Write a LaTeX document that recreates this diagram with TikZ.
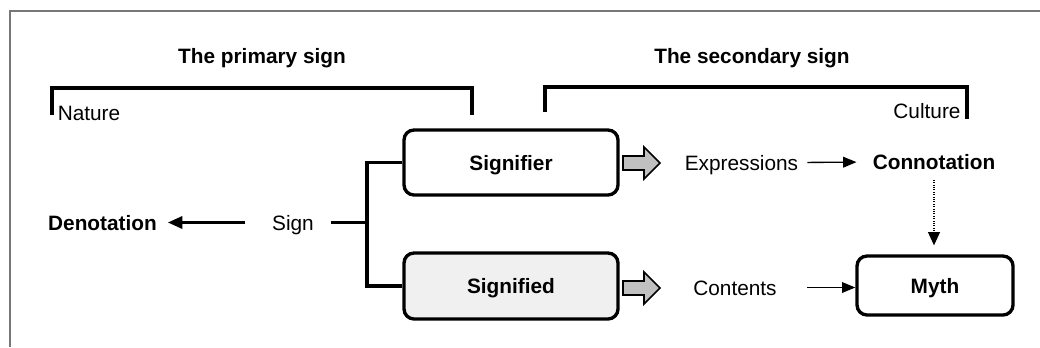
\documentclass[tikz,border=0pt]{standalone}
\usepackage{fontspec}
\setmainfont{Liberation Sans}
\usetikzlibrary{arrows.meta}
\definecolor{framegray}{HTML}{777777}
\definecolor{arrowgray}{HTML}{C0C0C0}
\definecolor{lightfill}{HTML}{F0F0F0}
\tikzset{
  txt/.style={inner sep=0pt, text height=11.3pt, text depth=0pt, font=\fontsize{15.6}{18}\selectfont},
  btxt/.style={txt, font=\fontsize{15.6}{18}\selectfont\bfseries},
  boxnode/.style={draw, line width=2.5pt, rounded corners=7.5pt, inner sep=0pt, text height=11.3pt, text depth=0pt,
     font=\fontsize{15.6}{18}\selectfont\bfseries},
  bracketline/.style={line width=2.6pt},
  thickarrow/.style={line width=2.5pt, -{Triangle[length=11pt,width=9pt]}},
  thinarrow/.style={line width=1pt, -{Triangle[length=10pt,width=8pt]}},
  dotarrow/.style={line width=0.8pt, densely dotted, -{Triangle[length=10pt,width=9pt]}},
  blockarrow/.style={draw, line width=1.3pt, fill=arrowgray, line join=miter},
}
\begin{document}
\begin{tikzpicture}[x=0.75pt,y=-0.75pt]
\useasboundingbox (0,0) rectangle (1040,347);
% frame
\draw[framegray, line width=1.5pt] (10,347) -- (10,11) -- (1040,11);

% titles
\node[btxt] (t1) at (262,55.5) {The primary sign};
\node[btxt] (t2) at (752,55.5) {The secondary sign};

% brackets
\draw[bracketline] (52,115) -- (52,88) -- (472,88) -- (472,115);
\draw[bracketline] (545,112) -- (545,87) -- (967,87) -- (967,119);
\node[txt] (nature) at (89,112.5) {Nature};
\node[txt] (culture) at (927,110.5) {Culture};

% left side
\node[btxt] (denot) at (102.5,222.5) {Denotation};
\node[txt] (sign) at (293,222.5) {Sign};
\draw[thickarrow, shorten <=20pt, shorten >=8pt] (sign.west) -- (denot.east);

% boxes
\node[boxnode, minimum width=160.5pt, minimum height=48.75pt] (sfr) at (511,162.5) {Signifier};
\node[boxnode, fill=lightfill, minimum width=160.5pt, minimum height=49.5pt] (sfd) at (511,286) {Signified};
\node[boxnode, minimum width=117pt, minimum height=44.25pt] (myth) at (935,285.5) {Myth};

\coordinate (jn) at (367,222.5);
\draw[bracketline, shorten <=12.75pt] (sign.east) -- (jn);
\draw[bracketline, line join=miter] (sfr.west) -| (jn) |- (sfd.west);

% block arrows
\draw[blockarrow] (623,156) -- (644,156) -- (644,147) -- (660,163) -- (644,179) -- (644,170) -- (623,170) -- cycle;
\draw[blockarrow] (623,281) -- (644,281) -- (644,272) -- (660,288) -- (644,304) -- (644,295) -- (623,295) -- cycle;

% right side
\node[txt] (expr) at (741.5,162.5) {Expressions};
\node[btxt] (conn) at (934,162) {Connotation};
\node[txt] (cont) at (735,287.5) {Contents};

\draw[thinarrow, shorten <=6.75pt, shorten >=12pt] (expr.east) -- (conn.west);
\draw[dotarrow, shorten <=7.5pt, shorten >=6.75pt] (conn.south) -- (conn.south |- myth.north);
\draw[thinarrow, shorten <=22.5pt] (cont.east) -- (cont.east -| myth.west);
\end{tikzpicture}
\end{document}
